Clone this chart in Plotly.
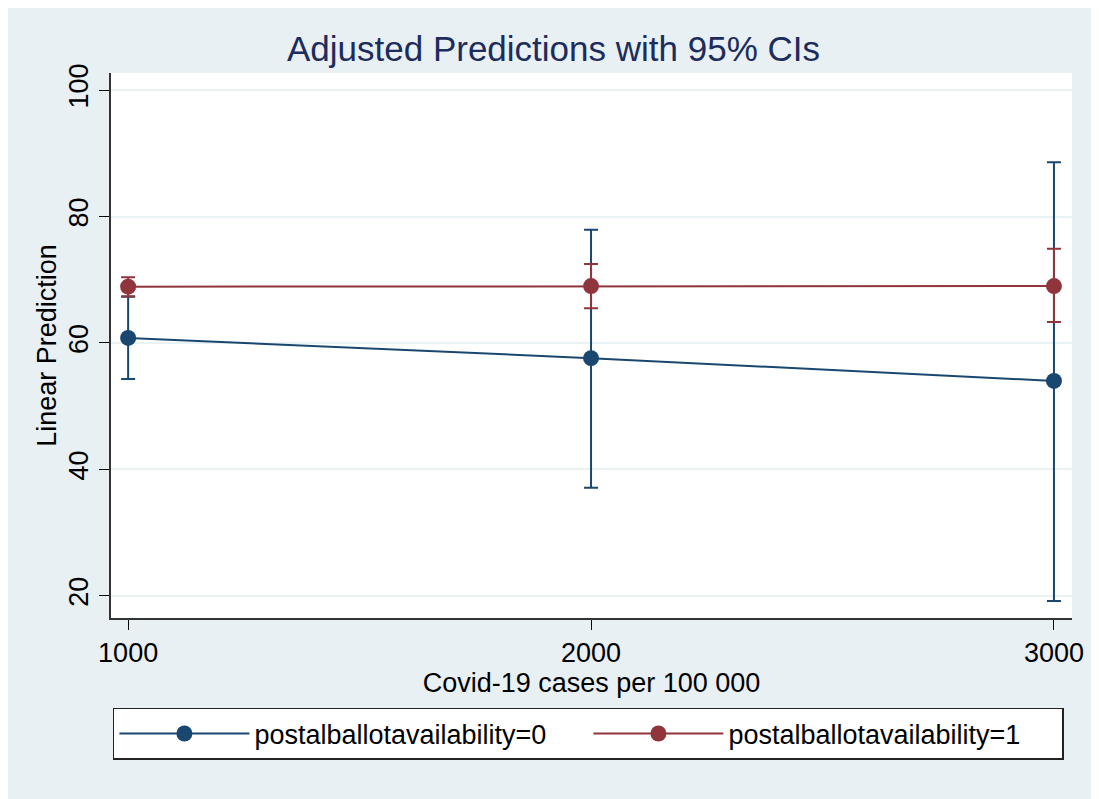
import plotly.graph_objects as go

# values
cases = [1000, 2000, 3000]

pred0 = [60.8, 57.6, 54.0]
lo0 = [54.3, 37.1, 19.2]
hi0 = [67.3, 77.9, 88.6]

pred1 = [68.9, 69.0, 69.0]
lo1 = [67.4, 65.5, 63.3]
hi1 = [70.4, 72.5, 74.9]

navy = '#1a476f'
maroon = '#90353b'
bg = '#e9f0f3'
font = 'Liberation Sans, Arial, sans-serif'

fig = go.Figure()

for name, y, lo, hi, col in [('postalballotavailability=0', pred0, lo0, hi0, navy),
                             ('postalballotavailability=1', pred1, lo1, hi1, maroon)]:
    fig.add_trace(go.Scatter(
        x=cases, y=y, name=name, mode='lines+markers',
        line=dict(color=col, width=2),
        marker=dict(color=col, size=16),
        error_y=dict(type='data', symmetric=False,
                     array=[h - v for h, v in zip(hi, y)],
                     arrayminus=[v - l for v, l in zip(y, lo)],
                     color=col, thickness=2, width=7),
    ))

# page has an 8px body margin, so the figure is a bit smaller than the window
fig.update_layout(
    width=1091, height=791,
    paper_bgcolor=bg, plot_bgcolor='white',
    font=dict(family=font, size=27, color='black'),
    margin=dict(l=103, r=27, t=65, b=181),
    title=dict(text='Adjusted Predictions with 95% CIs', x=0.5, xanchor='center',
               y=0.949, yanchor='middle',
               font=dict(size=35, color='#1c2c5c')),
    showlegend=True,
    legend=dict(orientation='h', x=0.002, xanchor='left', y=-0.165, yanchor='top',
                bgcolor='white', bordercolor='#222222', borderwidth=1.5,
                itemwidth=130, entrywidth=329, font=dict(size=27)),
)

fig.update_xaxes(
    title=dict(text='Covid-19 cases per 100 000', standoff=5, font=dict(size=27)),
    range=[963, 3039], tickvals=cases, ticks='outside', ticklen=10,
    tickcolor='black', showline=True, linecolor='#333333', linewidth=1.5,
    showgrid=False, zeroline=False,
)
fig.update_yaxes(
    title=dict(text='Linear Prediction', standoff=0, font=dict(size=27)),
    range=[16.5, 102.7], tickvals=[20, 40, 60, 80, 100], tickangle=-90,
    ticks='outside', ticklen=10, tickcolor='black',
    showline=True, linecolor='#333333', linewidth=1.5,
    showgrid=True, gridcolor='#eaf2f3', gridwidth=2, zeroline=False,
)

fig.write_html('out.html')
